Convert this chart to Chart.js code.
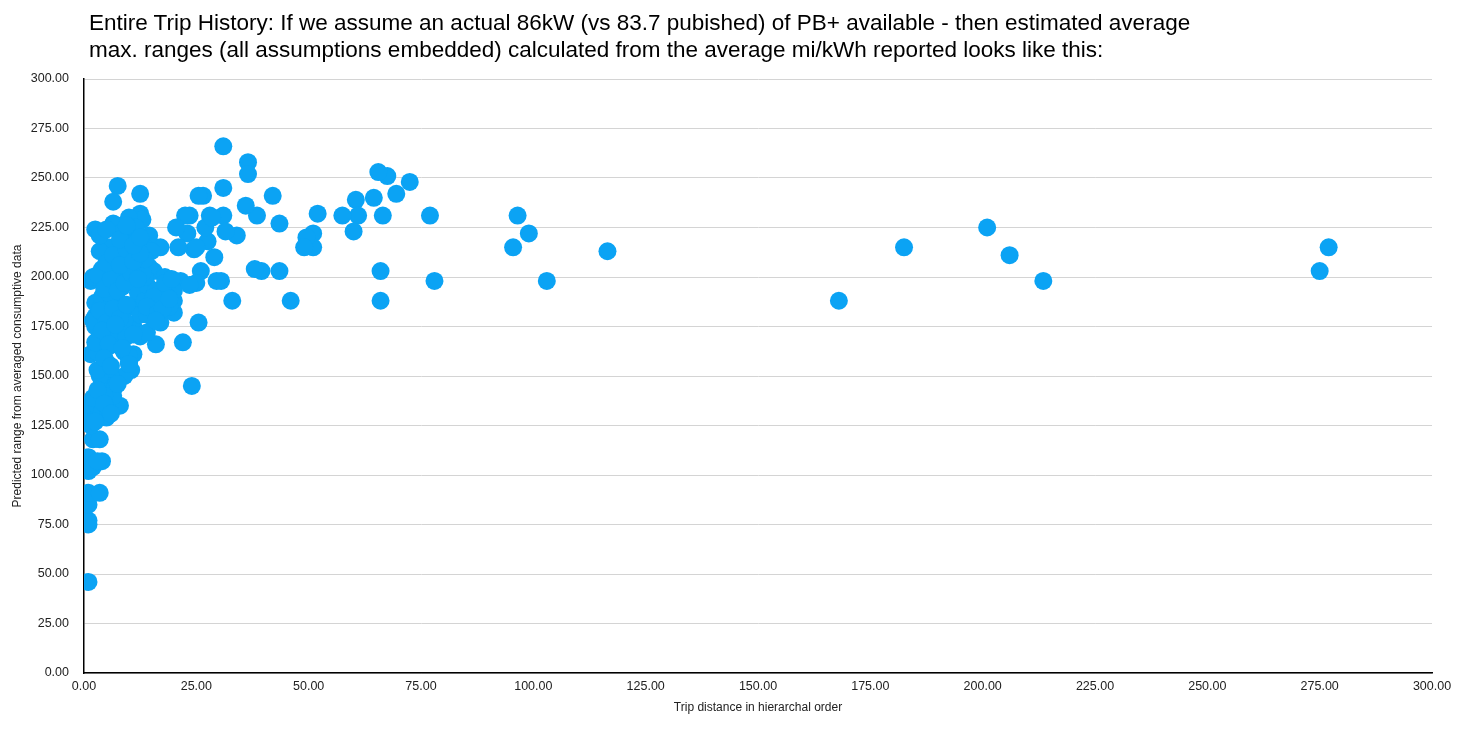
<!DOCTYPE html>
<html>
<head>
<meta charset="utf-8">
<script src="https://cdn.jsdelivr.net/npm/chart.js@4/dist/chart.umd.min.js"></script>
<style>
  html, body { margin: 0; padding: 0; background: #fff; }
  #wrap { position: relative; width: 1480px; height: 731px; }
  #title {
    position: absolute; left: 89px; top: 9px;
    font-family: "Liberation Sans", Arial, sans-serif;
    font-size: 22.5px; line-height: 27px; color: #000;
  }
</style>
</head>
<body>
<div id="wrap">
  <div id="title">Entire Trip History: If we assume an actual 86kW (vs 83.7 pubished) of PB+ available - then estimated average<br>max. ranges (all assumptions embedded) calculated from the average mi/kWh reported looks like this:</div>
  <canvas id="c"></canvas>
</div>
<script>
// ----- Data -----
const tripX = [
  277, 275, 213.5, 206, 201, 182.5, 168, 116.5, 103, 99, 96.5, 95.5, 78, 77,
  72.5, 69.5, 67.5, 65.5, 64.5, 66.5, 66, 66, 60.5, 61, 60, 57.5, 52, 51, 51,
  49.5, 49, 46, 43.5, 43.5, 42, 39.5, 38, 38.5, 36.5, 36.5, 36, 34, 33, 31, 31,
  31, 31.5, 30.5, 29.5, 29, 28, 27.5, 26.5, 25.5, 26, 25, 25.5, 24, 23.5, 22.5,
  22, 23, 24.5, 21.5, 21, 20, 20, 20, 17, 17, 16, 15.5, 14.5, 13.5, 12.5, 12.5,
  13, 13, 11, 10.5, 10, 9, 8, 7.5, 6.5, 6.5, 7.5, 8, 2.5, 1.5, 1, 1, 1, 1, 1,
  1, 1, 2, 3.5, 4, 3, 2, 3.5, 1.5, 1.5, 1.5, 2.5, 3, 4, 5, 4, 4, 4.5, 5, 1.5,
  3, 6, 6, 7, 5.5, 2.5, 2.5, 2.5, 3.5, 4, 4, 5, 6, 5, 6.5, 7.5, 7.5, 8, 8.5, 9,
  10, 10.5, 11, 12, 11, 12.5, 13.5, 14, 14.5, 15, 16, 17.5, 18.5, 9.5, 9, 12.5,
  14, 6, 5.5, 7, 3, 4, 7, 8.5, 11, 12, 15, 10, 11.5, 16, 13.5, 27, 28.5, 25,
  19, 18, 9, 10, 5, 6.5, 8.5, 3.5, 4.5, 2, 5.5, 7, 13, 15.5, 20.5, 23.5,
  3, 4.5, 6, 7.5, 9, 10.5, 12, 13.5, 3.5, 5, 6.5, 8, 9.5, 11, 12.5, 14,
  2, 3.5, 5, 6.5, 8, 9.5, 11, 2.5, 4, 5.5, 7, 8.5, 10, 3, 4.5, 6, 7.5,
  2, 3, 4.5, 6, 2.5, 3.5, 5, 8, 9.5, 11, 12.5, 14, 16.5, 18, 19.5,
  17.5, 19, 16, 18.5
];
const predictedRange = [
  215, 203, 198, 211, 225, 215, 188, 213, 198, 222, 231, 215, 198, 231,
  248, 242, 251, 253, 240, 231, 203, 188, 239, 231, 223, 231, 232, 222, 215,
  220, 215, 188, 227, 203, 241, 203, 204, 231, 258, 252, 236, 221, 188, 266, 245,
  231, 223, 198, 198, 210, 231, 218, 241, 241, 203, 197, 177, 145, 231, 231,
  167, 222, 214, 198, 215, 182, 188, 193, 215, 177, 166, 203, 221, 215, 242, 232,
  229, 210, 161, 153, 157, 150, 135, 246, 238, 227, 226, 222, 224, 198, 46, 75,
  77, 85, 91, 102, 109, 104, 91, 107, 107, 118, 118, 125, 131, 135, 128, 135,
  132, 129, 143, 148, 152, 157, 161, 162, 150, 145, 145, 165, 175, 180, 187,
  184, 190, 204, 198, 210, 175, 170, 180, 188, 195, 203, 212, 220, 200, 185,
  192, 175, 181, 188, 196, 205, 180, 193, 188, 190, 170, 162, 170, 172, 185,
  192, 205, 168, 175, 215, 218, 210, 218, 213, 230, 225, 187, 200, 225, 230,
  215, 185, 200, 178, 160, 155, 140, 195, 150, 140, 200, 215, 195, 202, 190, 225,
  196, 201, 194, 199, 193, 197, 202, 199, 209, 213, 207, 211, 206, 214, 208, 212,
  181, 178, 183, 177, 184, 179, 186, 171, 167, 173, 166, 176, 164, 156, 153, 159,
  155, 146, 139, 143, 136, 131, 127, 221, 224, 219, 226, 216, 220, 185, 182, 197,
  199, 184, 189, 178
];
const xTicks = [0, 25, 50, 75, 100, 125, 150, 175, 200, 225, 250, 275, 300];
const yTicks = [0, 25, 50, 75, 100, 125, 150, 175, 200, 225, 250, 275, 300];

const points = tripX.map((x, i) => ({ x: x, y: predictedRange[i] }));
const tickFont = { family: "Liberation Sans, Arial, sans-serif", size: 12.5 };

new Chart(document.getElementById("c"), {
  type: "scatter",
  data: {
    datasets: [{
      label: "Predicted range",
      data: points,
      backgroundColor: "#0ba3f4",
      borderColor: "#0ba3f4",
      borderWidth: 0,
      pointRadius: 9,
      pointHoverRadius: 9
    }]
  },
  options: {
    responsive: true,
    maintainAspectRatio: false,
    animation: false,
    layout: { padding: { top: 79, right: 48, left: 6, bottom: 16 } },
    plugins: { legend: { display: false }, tooltip: { enabled: false } },
    scales: {
      x: {
        type: "linear",
        min: 0, max: 300,
        afterBuildTicks: s => { s.ticks = xTicks.map(v => ({ value: v })); },
        afterFit: s => { s.height = 42; },
        grid: { display: false, drawTicks: false },
        border: { display: true, color: "#000", width: 1.5 },
        ticks: {
          color: "#222", font: tickFont, padding: 6, maxRotation: 0,
          callback: v => v.toFixed(2)
        },
        title: {
          display: true, text: "Trip distance in hierarchal order",
          color: "#222", font: { family: "Liberation Sans, Arial, sans-serif", size: 12 },
          padding: { top: 4, bottom: 0 }
        }
      },
      y: {
        type: "linear",
        min: 0, max: 300,
        afterBuildTicks: s => { s.ticks = yTicks.map(v => ({ value: v })); },
        afterFit: s => { s.width = 78; },
        grid: { color: "#d4d4d4", lineWidth: 1, drawTicks: false },
        border: { display: true, color: "#000", width: 1.5 },
        ticks: {
          color: "#222", font: tickFont, padding: 15,
          callback: v => v.toFixed(2)
        },
        title: {
          display: true, text: "Predicted range from averaged consumptive data",
          color: "#222", font: { family: "Liberation Sans, Arial, sans-serif", size: 12 },
          padding: { bottom: 0 }
        }
      }
    }
  }
});
</script>
</body>
</html>
